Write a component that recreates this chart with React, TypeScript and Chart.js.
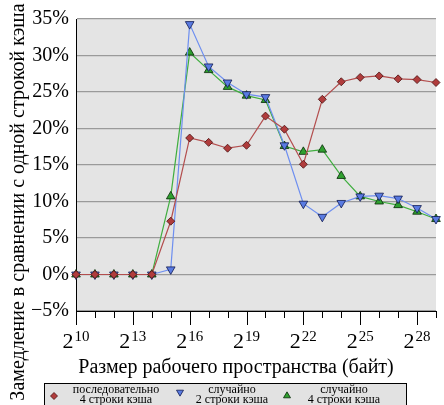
import React, { useEffect, useRef } from "react";
import { Chart, registerables } from "chart.js";

Chart.register(...registerables);

const exponents = [10, 11, 12, 13, 14, 15, 16, 17, 18, 19, 20, 21, 22, 23, 24, 25, 26, 27, 28, 29];
const seqFourLines = [0, 0, 0, 0, 0, 7.3, 18.7, 18.1, 17.3, 17.7, 21.7, 19.9, 15.1, 24.0, 26.4, 27.0, 27.2, 26.8, 26.7, 26.3];
const randTwoLines = [0, 0, 0, 0, 0, 0.7, 34.3, 28.5, 26.3, 24.7, 24.3, 17.7, 9.7, 7.9, 9.8, 10.7, 10.8, 10.4, 9.1, 7.6];
const randFourLines = [0, 0, 0, 0, 0, 10.7, 30.4, 28.0, 25.7, 24.5, 23.9, 17.6, 16.8, 17.1, 13.5, 10.7, 10.0, 9.5, 8.6, 7.6];
const majorExponents = [10, 13, 16, 19, 22, 25, 28];
const legendLabels = [
  ["последовательно", "4 строки кэша"],
  ["случайно", "2 строки кэша"],
  ["случайно", "4 строки кэша"],
];
const xTitle = "Размер рабочего пространства (байт)";
const yTitle = "Замедление в сравнении с одной строкой кэша";

const SERIF = '"Liberation Serif", "DejaVu Serif", serif';

function drawMarker(ctx: CanvasRenderingContext2D, kind: string, x: number, y: number, r: number, fill: string, stroke: string) {
  ctx.save();
  ctx.beginPath();
  if (kind === "diamond") {
    ctx.moveTo(x, y - r);
    ctx.lineTo(x + r, y);
    ctx.lineTo(x, y + r);
    ctx.lineTo(x - r, y);
  } else if (kind === "down") {
    ctx.moveTo(x - r, y - r * 0.8);
    ctx.lineTo(x + r, y - r * 0.8);
    ctx.lineTo(x, y + r * 0.9);
  } else {
    ctx.moveTo(x - r, y + r * 0.8);
    ctx.lineTo(x + r, y + r * 0.8);
    ctx.lineTo(x, y - r * 0.9);
  }
  ctx.closePath();
  ctx.fillStyle = fill;
  ctx.fill();
  ctx.lineWidth = 0.8;
  ctx.strokeStyle = stroke;
  ctx.stroke();
  ctx.restore();
}

const customPlugin = {
  id: "customDecor",
  beforeDraw(chart: any) {
    const { ctx, chartArea: a } = chart;
    ctx.save();
    ctx.fillStyle = "#e4e4e4";
    ctx.fillRect(a.left, a.top, a.right - a.left, a.bottom - a.top);
    ctx.restore();
  },
  afterDraw(chart: any) {
    const { ctx, chartArea: a } = chart;
    const xs = chart.scales.x;
    ctx.save();
    // x axis line
    ctx.strokeStyle = "#000";
    ctx.lineWidth = 1;
    ctx.beginPath();
    ctx.moveTo(a.left, a.bottom + 0.5);
    ctx.lineTo(a.right, a.bottom + 0.5);
    ctx.stroke();
    // ticks
    for (let e = xs.min; e <= xs.max; e++) {
      const px = Math.round(xs.getPixelForValue(e)) + 0.5;
      const major = majorExponents.includes(e);
      ctx.beginPath();
      ctx.moveTo(px, a.bottom);
      ctx.lineTo(px, a.bottom + (major ? 14 : 7));
      ctx.stroke();
    }
    // tick labels 2^n
    ctx.fillStyle = "#000";
    ctx.textBaseline = "alphabetic";
    ctx.textAlign = "left";
    for (const e of majorExponents) {
      const px = xs.getPixelForValue(e);
      ctx.font = `22px ${SERIF}`;
      const wb = ctx.measureText("2").width;
      ctx.font = `15px ${SERIF}`;
      const we = ctx.measureText(String(e)).width;
      const start = px - (wb + we + 1) / 2;
      ctx.font = `22px ${SERIF}`;
      ctx.fillText("2", start, a.bottom + 37);
      ctx.font = `15px ${SERIF}`;
      ctx.fillText(String(e), start + wb + 1, a.bottom + 30);
    }
    // x title
    ctx.font = `20px ${SERIF}`;
    ctx.textAlign = "center";
    ctx.fillText(xTitle, 236, a.bottom + 62);
    // y title
    ctx.save();
    ctx.translate(19, 202);
    ctx.rotate(-Math.PI / 2);
    ctx.textBaseline = "middle";
    ctx.fillText(yTitle, 0, 0);
    ctx.restore();
    // legend
    const lx = 44.5, ly = 383.5, lw = 362, lh = 22;
    ctx.fillStyle = "#e2e2e2";
    ctx.fillRect(lx, ly, lw, lh);
    ctx.strokeStyle = "#000";
    ctx.lineWidth = 1;
    ctx.strokeRect(lx, ly, lw, lh);
    const markerX = [54, 180, 287];
    const markerY = [396, 393, 395];
    const textX = [116, 232, 344];
    const kinds = ["diamond", "down", "up"];
    chart.data.datasets.forEach((ds: any, i: number) => {
      drawMarker(ctx, kinds[i], markerX[i], markerY[i], 3.5, ds.pointBackgroundColor, ds.pointBorderColor);
      ctx.fillStyle = "#000";
      ctx.font = `12px ${SERIF}`;
      ctx.textAlign = "center";
      ctx.textBaseline = "alphabetic";
      ctx.fillText(legendLabels[i][0], textX[i], 393);
      ctx.fillText(legendLabels[i][1], textX[i], 403);
    });
    ctx.restore();
  },
};

export default function App() {
  const ref = useRef<HTMLCanvasElement | null>(null);
  useEffect(() => {
    if (!ref.current) return;
    const chart = new Chart(ref.current, {
      type: "line",
      data: {
        datasets: [
          {
            label: "последовательно 4 строки кэша",
            data: exponents.map((e, i) => ({ x: e, y: seqFourLines[i] })),
            borderColor: "#b34e4e",
            backgroundColor: "#b04040",
            pointBackgroundColor: "#b03c3c",
            pointBorderColor: "#4a1010",
            pointStyle: "rectRot",
            pointRadius: 4,
            pointBorderWidth: 0.8,
            borderWidth: 1.2,
            clip: false,
          },
          {
            label: "случайно 2 строки кэша",
            data: exponents.map((e, i) => ({ x: e, y: randTwoLines[i] })),
            borderColor: "#6e8ff0",
            backgroundColor: "#5a7be2",
            pointBackgroundColor: "#5a7be2",
            pointBorderColor: "#101a50",
            pointStyle: "triangle",
            rotation: 180,
            pointRadius: 5,
            pointBorderWidth: 0.8,
            borderWidth: 1.2,
            clip: false,
          },
          {
            label: "случайно 4 строки кэша",
            data: exponents.map((e, i) => ({ x: e, y: randFourLines[i] })),
            borderColor: "#3fae3f",
            backgroundColor: "#2fa02f",
            pointBackgroundColor: "#2fa02f",
            pointBorderColor: "#062806",
            pointStyle: "triangle",
            pointRadius: 5,
            pointBorderWidth: 0.8,
            borderWidth: 1.2,
            clip: false,
          },
        ],
      },
      options: {
        responsive: false,
        animation: false,
        layout: { padding: { top: 11, right: 8, left: 0, bottom: 0 } },
        plugins: { legend: { display: false }, tooltip: { enabled: false } },
        scales: {
          x: {
            type: "linear",
            min: 10,
            max: 29,
            ticks: { display: false, stepSize: 1 },
            grid: { display: false },
            border: { display: false },
            afterFit: (s: any) => {
              s.height = 94;
            },
          },
          y: {
            min: -5,
            max: 35,
            ticks: {
              stepSize: 5,
              padding: 7,
              color: "#000",
              font: { family: SERIF, size: 20 },
              callback: (v: any) => (v < 0 ? "−" : "") + Math.abs(v) + "%",
            },
            grid: { color: "#9a9a9a", lineWidth: 1.3, drawTicks: false },
            border: { display: true, color: "#000", width: 1 },
            afterFit: (s: any) => {
              s.width = 76;
            },
          },
        },
      },
      plugins: [customPlugin],
    });
    return () => chart.destroy();
  }, []);
  return (
    <div style={{ position: "absolute", left: 0, top: 0, width: 444, height: 405, background: "#fff" }}>
      <canvas ref={ref} width={444} height={405} style={{ width: 444, height: 405 }} />
    </div>
  );
}
